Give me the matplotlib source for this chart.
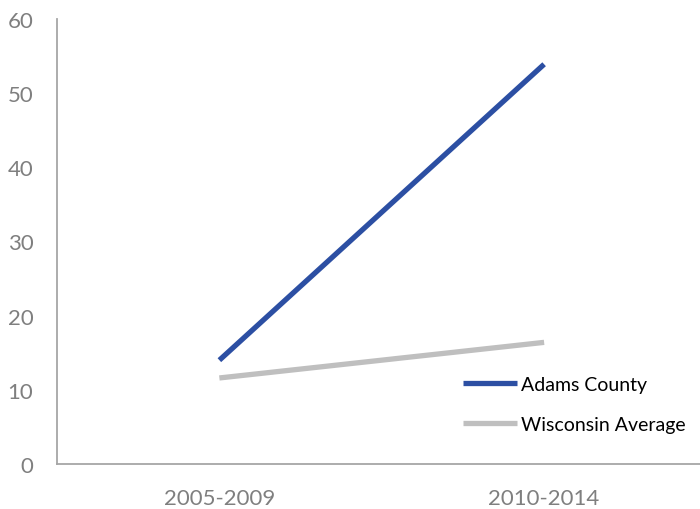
import matplotlib
matplotlib.use('Agg')
import matplotlib.pyplot as plt

# data
periods = ["2005-2009", "2010-2014"]
adams_county = [14.0, 53.9]
wisconsin_avg = [11.6, 16.4]

plt.rcParams['font.family'] = ['Lato', 'DejaVu Sans']

fig = plt.figure(figsize=(7, 5.1), dpi=100)
ax = fig.add_axes([57 / 700, 45 / 510, 1 - 57 / 700, 445 / 510])

x = list(range(len(periods)))
ax.plot(x, adams_county, color='#2C4FA3', linewidth=3.8, solid_capstyle='butt', label='Adams County')
ax.plot(x, wisconsin_avg, color='#BFBFBF', linewidth=3.8, solid_capstyle='butt', label='Wisconsin Average')

ax.set_xlim(-0.5, 1.48)
ax.set_ylim(0, 60)
ax.set_yticks(range(0, 61, 10))
ax.set_xticks(x)
ax.set_xticklabels(periods)

for side in ['top', 'right']:
    ax.spines[side].set_visible(False)
for side in ['left', 'bottom']:
    ax.spines[side].set_color('#A6A6A6')
    ax.spines[side].set_linewidth(1.3)

ax.tick_params(axis='both', length=0, labelsize=16, colors='#7F7F7F')
ax.tick_params(axis='y', pad=17)
ax.tick_params(axis='x', pad=17)

ax.legend(loc='lower right', bbox_to_anchor=(1.005, 0.03), frameon=False,
          fontsize=14, handlelength=2.8, handletextpad=0.2, labelspacing=1.2)

fig.savefig('out.png', dpi=100)
plt.close(fig)
